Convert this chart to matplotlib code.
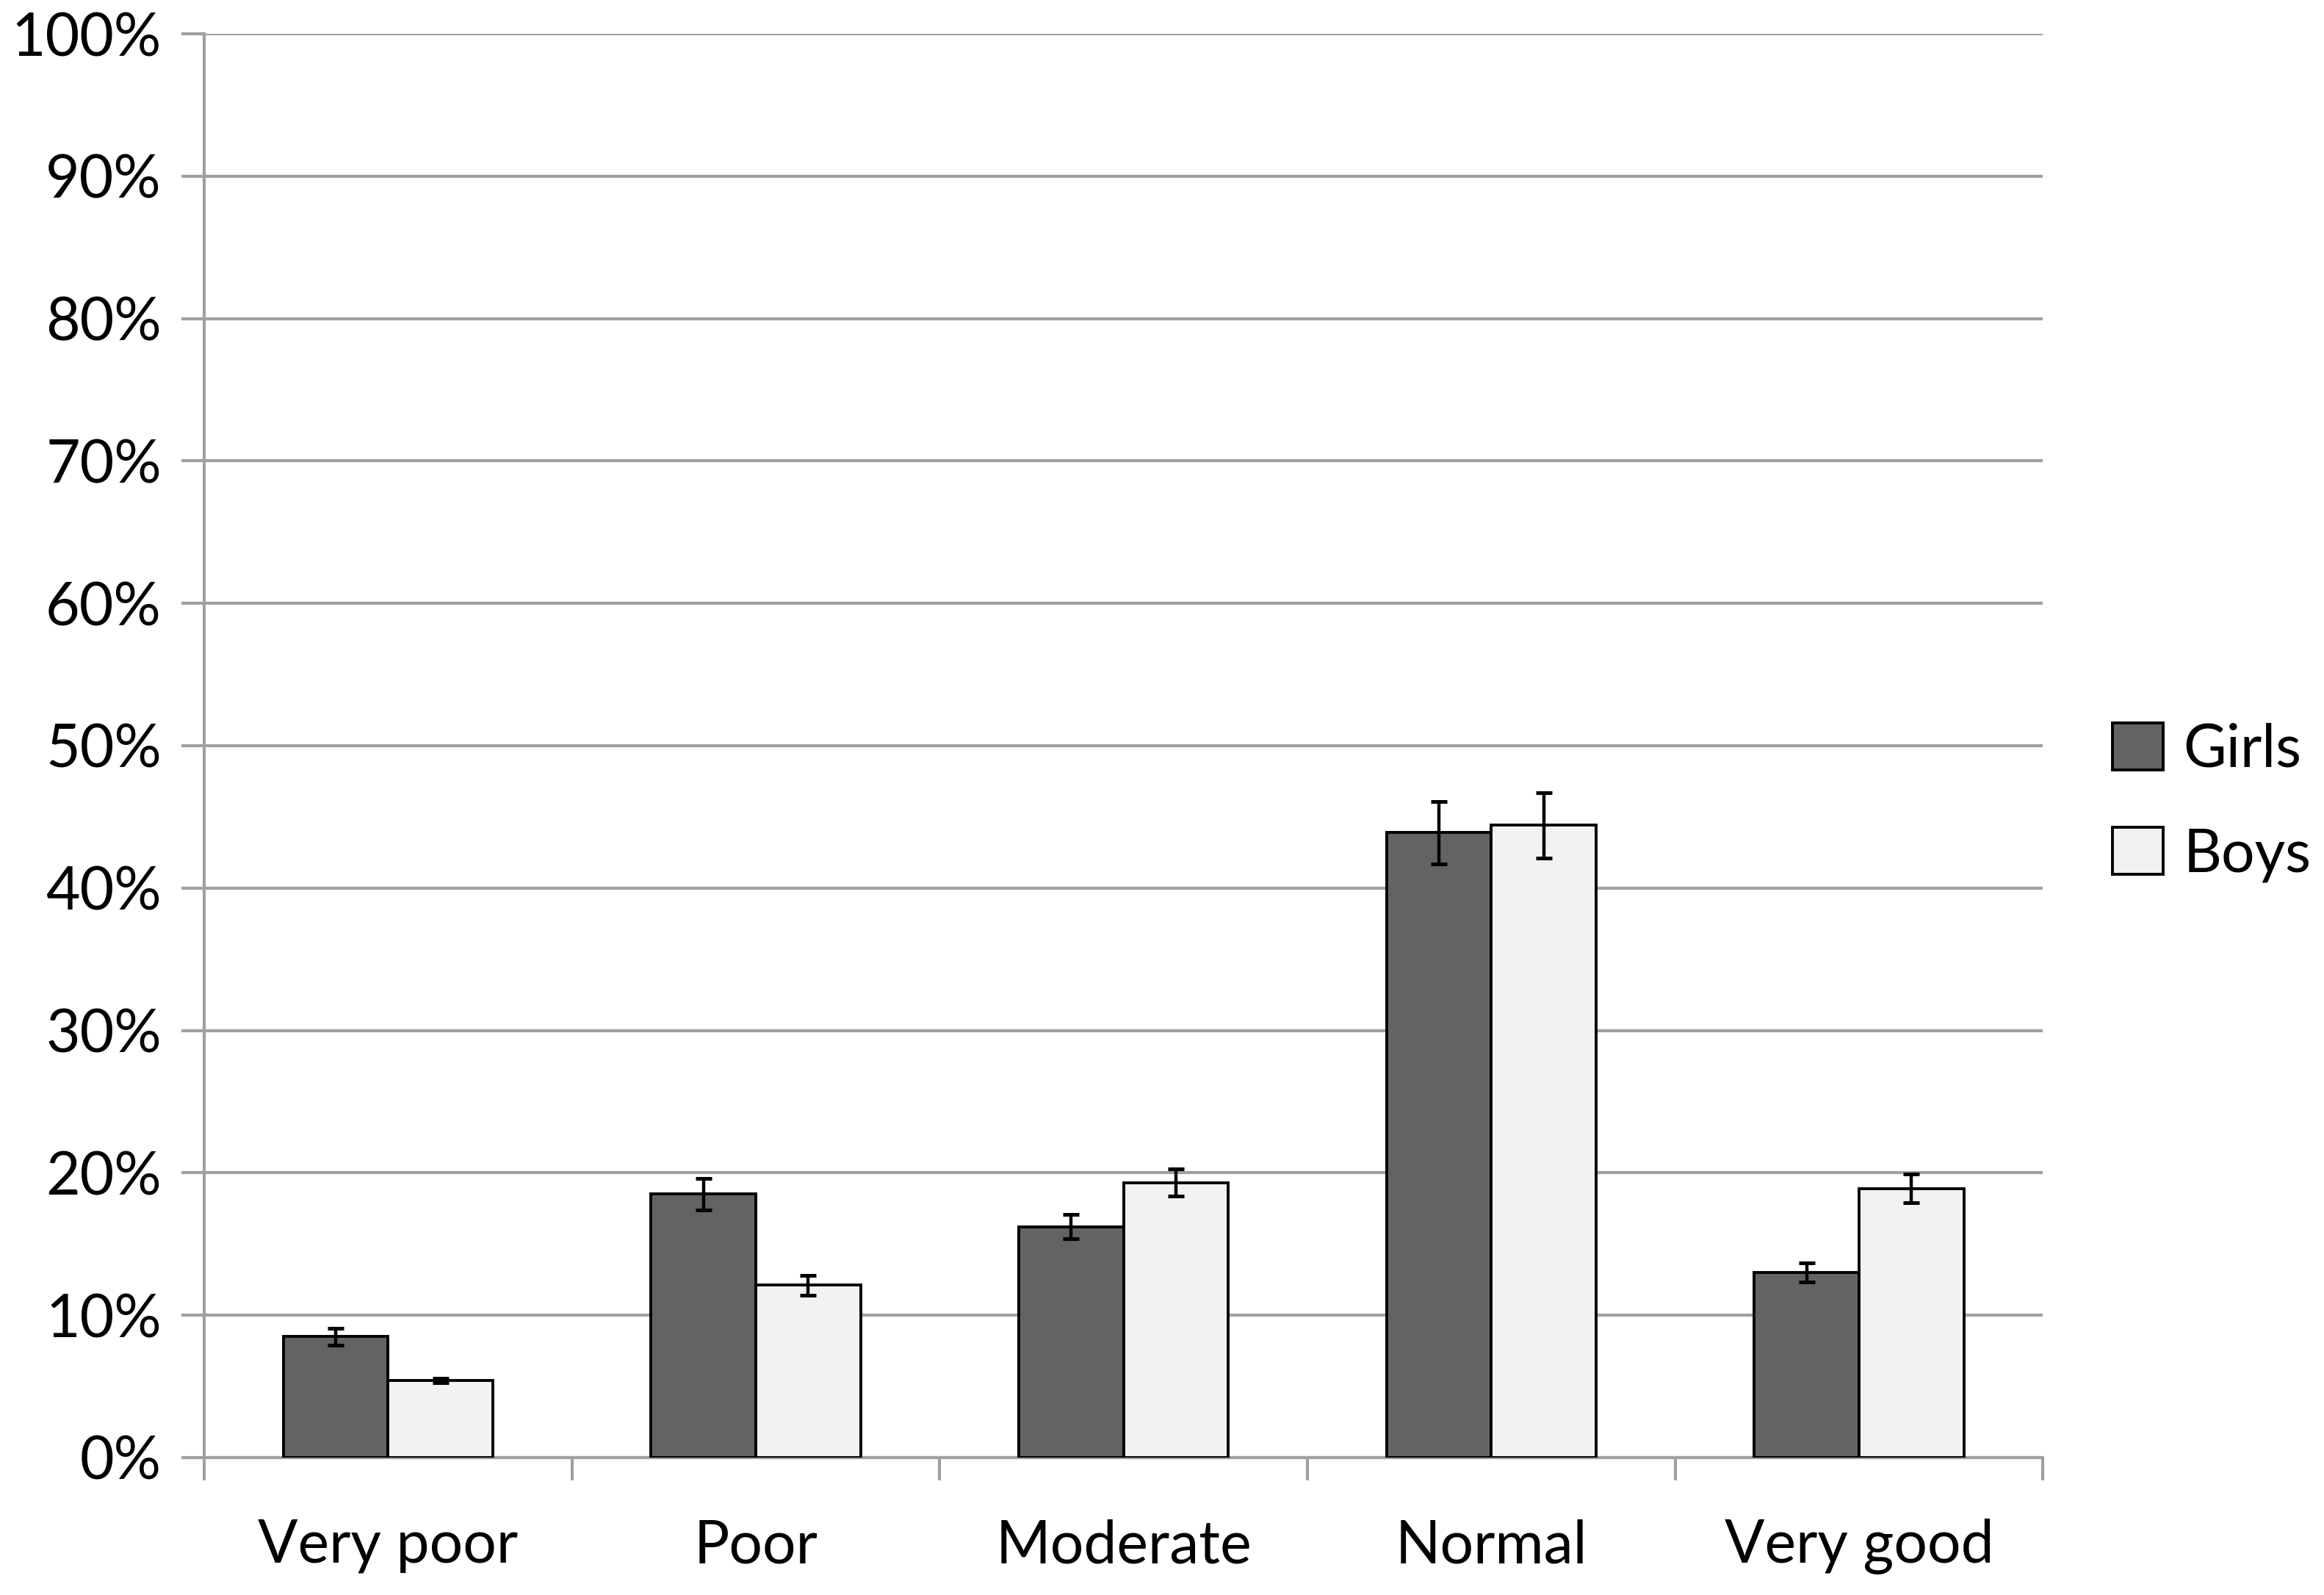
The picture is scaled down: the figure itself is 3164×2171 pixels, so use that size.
import matplotlib
matplotlib.use("Agg")
import matplotlib.pyplot as plt
import numpy as np

categories = ["Very poor", "Poor", "Moderate", "Normal", "Very good"]
girls = [8.5, 18.5, 16.2, 43.9, 13.0]
boys = [5.4, 12.1, 19.3, 44.4, 18.9]
girls_err = [0.6, 1.1, 0.85, 2.2, 0.65]
boys_err = [0.15, 0.7, 0.95, 2.3, 1.0]
y_ticks = [0, 10, 20, 30, 40, 50, 60, 70, 80, 90, 100]
y_labels = [f"{v}%" for v in y_ticks]

plt.rcParams['font.family'] = ['Lato', 'DejaVu Sans']

DPI = 200
fig = plt.figure(figsize=(3164 / DPI, 2171 / DPI), dpi=DPI)
ax = fig.add_axes([0.0879, 0.0862, 0.7911, 0.8926])

grid_color = "#a0a0a0"
x = np.arange(len(categories))
w = 0.285
ax.bar(x - w / 2, girls, width=w, color="#636363", edgecolor="black", linewidth=1.4,
       label="Girls", zorder=3)
ax.bar(x + w / 2, boys, width=w, color="#f2f2f2", edgecolor="black", linewidth=1.4,
       label="Boys", zorder=3)
ax.errorbar(x - w / 2, girls, yerr=girls_err, fmt="none", ecolor="black",
            elinewidth=1.6, capsize=4, capthick=1.8, zorder=4)
ax.errorbar(x + w / 2, boys, yerr=boys_err, fmt="none", ecolor="black",
            elinewidth=1.6, capsize=4, capthick=1.8, zorder=4)

ax.set_xlim(-0.5, len(categories) - 0.5)
ax.set_ylim(0, 100)
ax.set_yticks(y_ticks)
ax.set_yticklabels(y_labels)
ax.yaxis.grid(True, color=grid_color, linewidth=1.5, zorder=0)
ax.set_axisbelow(True)

ax.set_xticks(x)
ax.set_xticklabels(categories)
ax.set_xticks(np.arange(-0.5, len(categories) + 0.5, 1.0), minor=True)
ax.tick_params(axis="x", which="major", length=0, pad=30, labelsize=29, colors="black")
ax.tick_params(axis="x", which="minor", length=11, width=1.5, color=grid_color)
ax.tick_params(axis="y", which="major", length=11, width=1.5, color=grid_color,
               pad=10, labelsize=29, labelcolor="black")

for s in ["top", "right"]:
    ax.spines[s].set_visible(False)
for s in ["left", "bottom"]:
    ax.spines[s].set_color(grid_color)
    ax.spines[s].set_linewidth(1.5)

fig.legend(loc="center left", bbox_to_anchor=(0.909, 0.497), frameon=False,
           fontsize=29, handlelength=0.85, handleheight=0.85, handletextpad=0.35,
           labelspacing=0.85, borderaxespad=0, borderpad=0)

fig.savefig("out.png", dpi=DPI)
